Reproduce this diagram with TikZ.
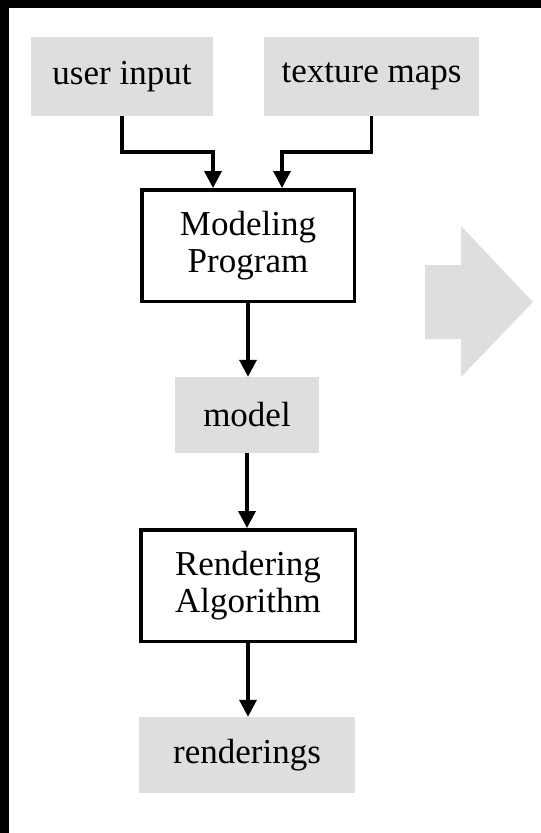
\documentclass[tikz,border=0pt]{standalone}
\usepackage{fontspec}
\setmainfont{Liberation Serif}
\usetikzlibrary{arrows.meta}

\definecolor{boxgray}{HTML}{DEDEDE}

\tikzset{
  datum/.style={fill=boxgray, draw=none, inner sep=0pt, font=\fontsize{35}{37}\selectfont},
  stage/.style={draw=black, fill=white, line width=3.5pt, inner sep=0pt,
                align=center, font=\fontsize{35}{37}\selectfont},
  conn/.style={line width=3.5pt, -{Triangle[length=17pt,width=17pt]}}
}

\begin{document}
\begin{tikzpicture}[x=1pt,y=-1pt]
  \useasboundingbox (0,0) rectangle (541,833);
  \fill[white] (0,0) rectangle (541,833);
  % dark frame edges at top and left
  \fill[black] (0,0) rectangle (541,8);
  \fill[black] (0,0) rectangle (9,833);

  % inputs
  \node[datum, minimum width=182pt, minimum height=79pt] (ui) at (122,76.5) {user input};
  \node[datum, minimum width=215pt, minimum height=79pt] (tm) at (371.5,76.5) {texture maps};

  % processing stages and data
  \node[stage, minimum width=212.5pt, minimum height=111.5pt] (mp) at (248,245.5) {Modeling\\Program};
  \node[datum, minimum width=144pt, minimum height=76pt] (md) at (247,415) {model};
  \node[stage, minimum width=214.5pt, minimum height=111.5pt] (ra) at (248,585.5) {Rendering\\Algorithm};
  \node[datum, minimum width=216pt, minimum height=76pt] (rd) at (247,755) {renderings};

  % elbow points for the two inputs
  \coordinate (k1) at (213,152);
  \coordinate (k2) at (282,152);

  \draw[conn] (ui.south) |- (k1) -- (k1 |- mp.north);
  \draw[conn] (tm.south) |- (k2) -- (k2 |- mp.north);
  \draw[conn] (mp.south) -- (mp.south |- md.north);
  \draw[conn] (md.south) -- (md.south |- ra.north);
  \draw[conn] (ra.south) -- (ra.south |- rd.north);

  % big gray block arrow on the right
  \fill[boxgray] (425,265) -- (461,265) -- (461,226) -- (533,302)
                 -- (461,377) -- (461,339) -- (425,339) -- cycle;
\end{tikzpicture}
\end{document}
